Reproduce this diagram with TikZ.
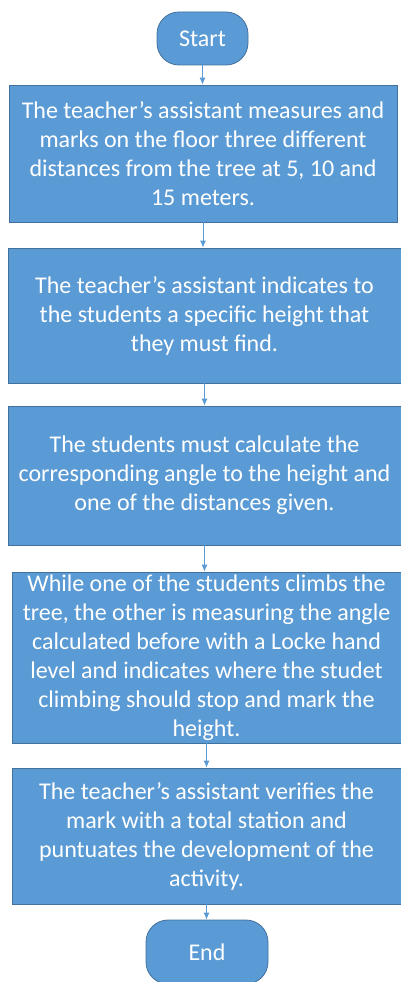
\documentclass[tikz,border=0pt]{standalone}
\usepackage{fontspec}
\setmainfont{Carlito}
\usetikzlibrary{arrows.meta}
\definecolor{boxblue}{HTML}{5B9BD5}
\definecolor{edgeblue}{HTML}{41719C}
\tikzset{
  stepbox/.style={draw=edgeblue,fill=boxblue,text=white,align=center,
    font=\fontsize{24}{29}\selectfont,inner sep=0pt,line width=0.8pt},
  termbox/.style={stepbox,rounded corners=22pt},
  flow/.style={->,draw=boxblue,line width=0.8pt}
}
\begin{document}
\begin{tikzpicture}[x=1pt,y=-1pt,>={Latex[length=7pt,width=6pt]}]
  \useasboundingbox (0,0) rectangle (401,982);

  \node[termbox,minimum width=91pt,minimum height=53pt] (start) at (202.5,38.5) {Start};
  \node[stepbox,minimum width=388pt,minimum height=137pt] (s1) at (203,153.5)
    {The teacher’s assistant measures and\\ marks on the floor three different\\
     distances from the tree at 5, 10 and\\ 15 meters.};
  \node[stepbox,minimum width=393pt,minimum height=135pt] (s2) at (204.5,315.5)
    {The teacher’s assistant indicates to\\ the students a specific height that\\
     they must find.};
  \node[stepbox,minimum width=393pt,minimum height=139pt] (s3) at (204.5,475.5)
    {The students must calculate the\\ corresponding angle to the height and\\
     one of the distances given.};
  \node[stepbox,minimum width=389pt,minimum height=171pt] (s4) at (206.5,657.5)
    {While one of the students climbs the\\ tree, the other is measuring the angle\\
     calculated before with a Locke hand\\ level and indicates where the studet\\
     climbing should stop and mark the\\ height.};
  \node[stepbox,minimum width=389pt,minimum height=136pt] (s5) at (206.5,836)
    {The teacher’s assistant verifies the\\ mark with a total station and\\
     puntuates the development of the\\ activity.};
  \node[termbox,minimum width=122pt,minimum height=64pt] (end) at (207,952) {End};

  \draw[flow] (start.south) -- (start.south |- s1.north);
  \draw[flow] (s1.south) -- (s1.south |- s2.north);
  \draw[flow] (s2.south) -- (s2.south |- s3.north);
  \draw[flow] (s3.south) -- (s3.south |- s4.north);
  \draw[flow] (s4.south) -- (s4.south |- s5.north);
  \draw[flow] (s5.south) -- (s5.south |- end.north);
\end{tikzpicture}
\end{document}
